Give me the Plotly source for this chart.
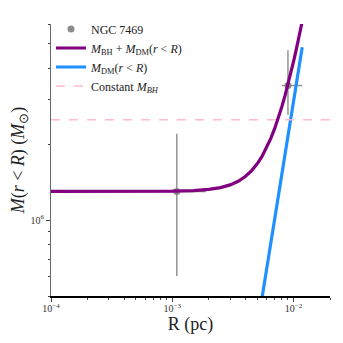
import plotly.graph_objects as go

# Observed data points (NGC 7469)
obs_r = [1.09e-3, 9.0e-3]
obs_r_err_minus = [0.8e-3, 1.0e-3]
obs_r_err_plus = [0.8e-3, 2.8e-3]
obs_m = [1.30e6, 3.42e6]
obs_m_err_minus = [0.70e6, 0.80e6]
obs_m_err_plus = [0.90e6, 1.30e6]

# Enclosed mass curves
r_curve = [1e-4, 5e-4, 1e-3, 1.5e-3, 2e-3, 2.5e-3, 3e-3, 3.5e-3, 4e-3, 4.5e-3,
           5e-3, 5.5e-3, 6e-3, 6.5e-3, 7e-3, 7.5e-3, 8e-3, 8.5e-3, 9e-3, 9.5e-3,
           1e-2, 1.05e-2, 1.1e-2, 1.15e-2, 1.18e-2]
m_total = [1.300e6, 1.300e6, 1.303e6, 1.310e6, 1.324e6, 1.346e6, 1.380e6, 1.426e6,
           1.489e6, 1.569e6, 1.669e6, 1.791e6, 1.937e6, 2.110e6, 2.312e6, 2.545e6,
           2.810e6, 3.111e6, 3.451e6, 3.829e6, 4.250e6, 4.715e6, 5.226e6, 5.787e6,
           6.147e6]
r_dm = [4e-3, 6e-3, 8e-3, 1e-2, 1.18e-2]
m_dm = [1.89e5, 6.37e5, 1.51e6, 2.95e6, 4.85e6]
r_const = [1e-4, 2e-2]
m_bh_const = [2.5e6, 2.5e6]

x_major = [1e-4, 1e-3, 1e-2]
x_labels = ["10<sup>−4</sup>", "10<sup>−3</sup>", "10<sup>−2</sup>"]
x_minor = [k * 10.0 ** e for e in (-4, -3) for k in range(2, 10)] + [2e-2]
y_major = [1e6]
y_labels = ["10<sup>6</sup>"]
y_minor = [5e5, 6e5, 7e5, 8e5, 9e5, 2e6, 3e6, 4e6, 5e6, 6e6]

serif = "Liberation Serif"
x_range = [-4, -1.69897]
y_range = [5.69897, 6.77815]

fig = go.Figure()

fig.add_trace(go.Scatter(
    x=obs_r, y=obs_m, mode="markers", name="NGC 7469",
    marker=dict(color="rgba(128,128,128,0.9)", size=7),
    error_x=dict(type="data", symmetric=False, array=obs_r_err_plus,
                 arrayminus=obs_r_err_minus, color="rgba(128,128,128,0.85)",
                 thickness=1.5, width=0),
    error_y=dict(type="data", symmetric=False, array=obs_m_err_plus,
                 arrayminus=obs_m_err_minus, color="rgba(128,128,128,0.85)",
                 thickness=1.5, width=0),
))
fig.add_trace(go.Scatter(x=r_curve, y=m_total, mode="lines",
                         name="<i>M</i><sub>BH</sub> + <i>M</i><sub>DM</sub>(<i>r</i> &lt; <i>R</i>)",
                         line=dict(color="#800080", width=3.2)))
fig.add_trace(go.Scatter(x=r_dm, y=m_dm, mode="lines",
                         name="<i>M</i><sub>DM</sub>(<i>r</i> &lt; <i>R</i>)",
                         line=dict(color="#1E90FF", width=3.2)))
fig.add_trace(go.Scatter(x=r_const, y=m_bh_const, mode="lines",
                         name="Constant <i>M<sub>BH</sub></i>",
                         line=dict(color="rgba(255,182,193,0.9)", width=1.5, dash="dash")))

tick_font = dict(size=10, color="#333")
# page body keeps an 8px margin, so the figure is 335 wide and sits at (8, 8)
fig.update_layout(
    width=335, height=335,
    template="simple_white",
    margin=dict(l=43, r=13, t=6, b=47),
    font=dict(family=serif, size=12, color="#222"),
    showlegend=True,
    legend=dict(x=0.0, y=1.035, xanchor="left", yanchor="top",
                bgcolor="rgba(255,255,255,0)", font=dict(size=12),
                itemwidth=30, traceorder="normal"),
    xaxis=dict(type="log", range=x_range, tickmode="array", tickvals=x_major,
               ticktext=x_labels, ticks="outside", ticklen=4, tickwidth=1,
               showline=True, linecolor="black", linewidth=1.5, mirror=False,
               tickfont=tick_font, automargin=False, ticklabelstandoff=-2,
               minor=dict(tickmode="array", tickvals=x_minor, ticks="outside",
                          ticklen=2, tickcolor="#444"),
               title=dict(text="R (pc)", font=dict(size=18), standoff=0)),
    yaxis=dict(type="log", range=y_range, tickmode="array", tickvals=y_major,
               ticktext=y_labels, ticks="outside", ticklen=4, tickwidth=1,
               showline=True, linecolor="#666", linewidth=1, mirror=False,
               tickfont=tick_font, automargin=False,
               minor=dict(tickmode="array", tickvals=y_minor, ticks="outside",
                          ticklen=2, tickcolor="#444"),
               title=dict(text="<i>M</i>(<i>r</i> &lt; <i>R</i>) (<i>M</i><sub>⊙</sub>)",
                          font=dict(size=18), standoff=4)),
    xaxis2=dict(type="log", range=x_range, overlaying="x", side="top", anchor="y",
                tickmode="array", tickvals=x_major, showticklabels=False,
                ticks="outside", ticklen=4, showline=True, linecolor="#888",
                linewidth=2, tickcolor="#666", automargin=False,
                minor=dict(tickmode="array", tickvals=x_minor, ticks="outside",
                           ticklen=2, tickcolor="#666")),
    yaxis2=dict(type="log", range=y_range, overlaying="y", side="right", anchor="x",
                tickmode="array", tickvals=y_major, showticklabels=False,
                ticks="outside", ticklen=4, showline=True, linecolor="#888",
                linewidth=2, tickcolor="#666", automargin=False,
                minor=dict(tickmode="array", tickvals=y_minor, ticks="outside",
                           ticklen=2, tickcolor="#666")),
)

fig.write_html("out.html", config={"displayModeBar": False})
